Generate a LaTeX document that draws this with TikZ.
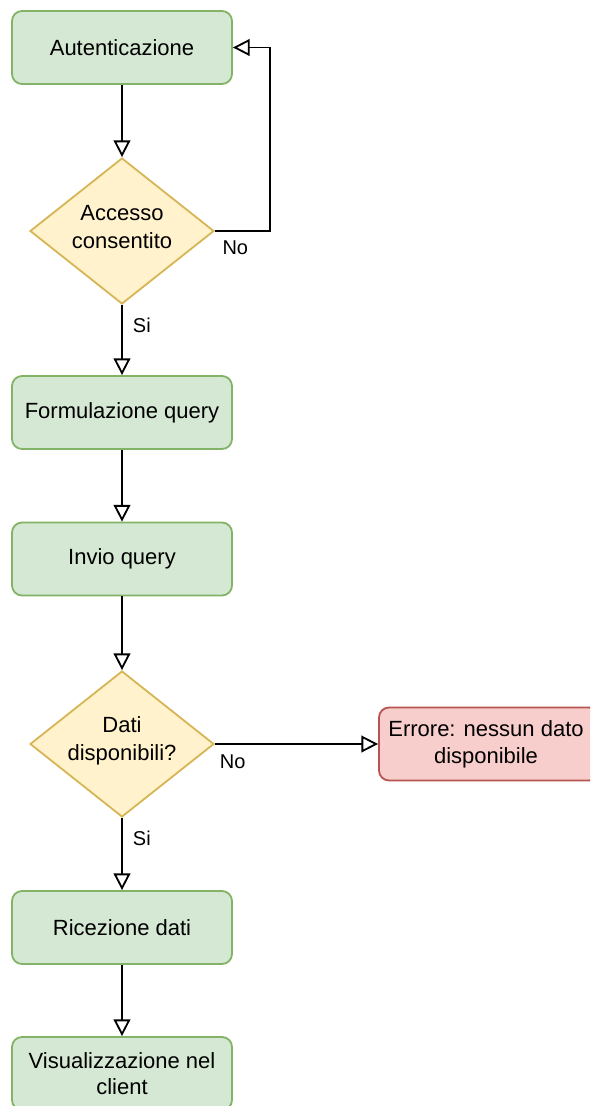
\documentclass[tikz,border=0pt]{standalone}
\usepackage{fontspec}
\setmainfont{Liberation Sans}
\usetikzlibrary{shapes.geometric,arrows.meta}
\definecolor{gfill}{HTML}{D5E8D4}
\definecolor{gline}{HTML}{82B366}
\definecolor{yfill}{HTML}{FFF2CC}
\definecolor{yline}{HTML}{D6B656}
\definecolor{rfill}{HTML}{F8CECC}
\definecolor{rline}{HTML}{B85450}
\tikzset{
  stepbox/.style={rectangle, rounded corners=7.5pt, draw=gline, fill=gfill,
    line width=1.375pt, minimum width=165pt, minimum height=54.75pt,
    inner sep=0pt, align=center, font=\fontsize{16.5}{20}\selectfont},
  errbox/.style={stepbox, draw=rline, fill=rfill},
  choice/.style={diamond, draw=yline, fill=yfill, line width=1.375pt,
    minimum width=138pt, minimum height=109.5pt, inner sep=0pt},
  choicetext/.style={align=center, inner sep=0pt, font=\fontsize{16.5}{21}\selectfont},
  flow/.style={line width=1.375pt, -{Triangle[open, length=12.5pt, width=12.5pt]}},
  lbl/.style={inner sep=0pt, font=\fontsize{15}{18}\selectfont},
}
\begin{document}
\begin{tikzpicture}[x=0.75pt, y=-0.75pt]
\useasboundingbox (0,0) rectangle (590,1106);
\clip (0,0) rectangle (590,1106);

% process steps
\node[stepbox] (auth) at (122,47.5) {Autenticazione};
\node[choice] (acc) at (122,231) {};
\node[choicetext] at (122,227) {Accesso\\consentito};
\node[stepbox] (form) at (122,412.5) {Formulazione query};
\node[stepbox] (send) at (122,559) {Invio query};
\node[choice] (avail) at (122,744) {};
\node[choicetext] at (122,741) {Dati\\disponibili?};
\node[errbox] (err) at (489,744) {};
\node[choicetext, font=\fontsize{16.5}{20}\selectfont] at (486,744) {Errore: nessun dato\\disponibile};
\node[stepbox] (recv) at (122,927.5) {Ricezione dati};
\node[stepbox] (show) at (122,1073.5) {Visualizzazione nel\\client};

% connectors
\draw[flow] (auth) -- (acc.north);
\draw[flow] (acc.east) -- node[lbl, at start, anchor=west, xshift=5pt, yshift=-12.75pt] {No}
  ++(55,0) |- (auth.east);
\draw[flow] (acc.south) -- node[lbl, at start, anchor=west, xshift=7.5pt, yshift=-15pt] {Si} (form.north);
\draw[flow] (form) -- (send);
\draw[flow] (send) -- (avail.north);
\draw[flow] (avail.east) -- node[lbl, at start, anchor=west, xshift=3pt, yshift=-13.5pt] {No} (err.west);
\draw[flow] (avail.south) -- node[lbl, at start, anchor=west, xshift=7.5pt, yshift=-15pt] {Si} (recv.north);
\draw[flow] (recv) -- (show);
\end{tikzpicture}
\end{document}
